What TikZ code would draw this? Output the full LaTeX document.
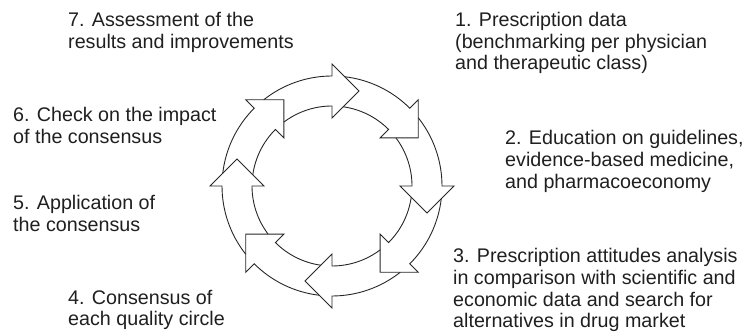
\documentclass[tikz,border=0pt]{standalone}
\usepackage{fontspec}
\setmainfont{Liberation Sans}
\begin{document}
\begin{tikzpicture}[x=1pt,y=1pt,
  lbl/.style={anchor=base west,inner sep=0pt,align=left,
    font=\fontsize{19.7}{21.6}\selectfont,text=black!88},
  ring/.style={line width=0.9pt,line join=miter,black!85}]
\useasboundingbox (0,0) rectangle (752,334);
\coordinate (O) at (332,148);
% ring of eight arrows (clockwise)
\begin{scope}[shift={(O)}]
\foreach \a in {90,45,0,-45,-90,-135,180,135}{
  \pgfmathsetmacro{\po}{\a+45-6.65}
  \pgfmathsetmacro{\pn}{\a+45-8.06}
  \pgfmathsetmacro{\tp}{\a-15.87}
  \draw[ring] (\po:110) arc[start angle=\po,end angle=\a,radius=110]
     -- (\a:122) -- (\tp:98.76) -- (\a:68)
     -- (\a:80) arc[start angle=\a,end angle=\pn,radius=80];
}
\end{scope}
\node[lbl] (t7) at (68,285.6) {7. Assessment of the\\results and improvements};
\node[lbl] (t6) at (13,190.7) {6. Check on the impact\\of the consensus};
\node[lbl] (t5) at (13,102.4) {5. Application of\\the consensus};
\node[lbl] (t4) at (68,8) {4. Consensus of\\each quality circle};
\node[lbl] (t1) at (455,264) {1. Prescription data\\(benchmarking per physician\\and therapeutic class)};
\node[lbl] (t2) at (505,145.8) {2. Education on guidelines,\\evidence-based medicine,\\and pharmacoeconomy};
\node[lbl] (t3) at (453,6.2) {3. Prescription attitudes analysis\\in comparison with scientific and\\economic data and search for\\alternatives in drug market};
\end{tikzpicture}
\end{document}
